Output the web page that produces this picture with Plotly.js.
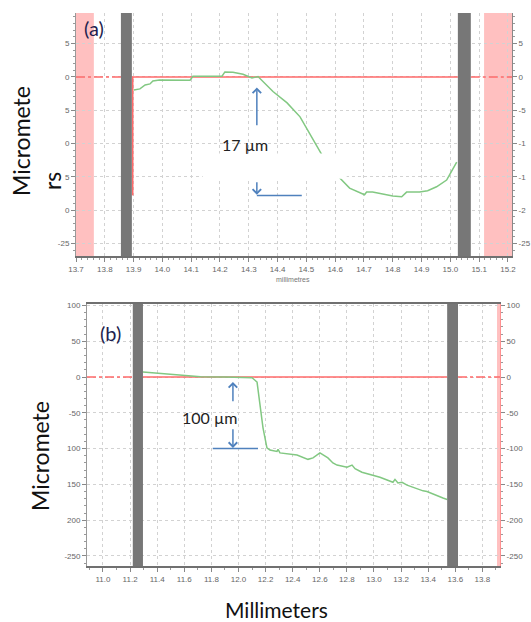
<!DOCTYPE html>
<html><head><meta charset="utf-8">
<script src="https://cdn.plot.ly/plotly-3.0.1.min.js"></script>
<style>html,body{margin:0;padding:0;background:#fff}#chart{width:531px;height:622px}</style>
</head><body><div id="chart"></div>
<script>
// ---------- Panel (a) data ----------
const profileAx = [13.901,13.922,13.94,13.957,13.967,13.99,14.096,14.106,14.207,14.217,14.245,14.28,14.311,14.332,14.384,14.433,14.478,14.523,14.554,14.585,14.617,14.650,14.702,14.709,14.730,14.800,14.831,14.848,14.893,14.921,14.952,14.987,15.001,15.022];
const profileAy = [-1.95,-1.8,-1.2,-1.05,-0.6,-0.45,-0.5,0.1,0.1,0.75,0.7,0.4,-0.15,0.05,-2.2,-3.9,-6.0,-9.5,-11.7,-13.8,-15.3,-16.7,-17.7,-17.3,-17.3,-17.9,-18.0,-17.3,-17.3,-17.1,-16.5,-15.5,-14.4,-12.8];
const xTickValsA = [13.7,13.8,13.9,14.0,14.1,14.2,14.3,14.4,14.5,14.6,14.7,14.8,14.9,15.0,15.1,15.2];
const xTickTextA = ["13.7","13.8","13.9","14.0","14.1","14.2","14.3","14.4","14.5","14.6","14.7","14.8","14.9","15.0","15.1","15.2"];
const yTickValsA = [5,0,-5,-10,-15,-20,-25];
const yTickTextLeftA = ["5","0","5","0","5","0","-25"];
const yTickTextRightA = ["5","0","-5","-1","-1","-2","-25"];
const clampBarsA = [[13.856,13.894],[15.026,15.071]];
const excludedA = [[13.70,13.762],[15.117,15.214]];
const refSolidAx = [13.894,15.026];
const refDashLeftAx = [13.70,13.856];
const refDashRightAx = [15.071,15.214];
const edgeAx = [13.897,13.897];
const edgeAy = [0,-17.8];
const stepA = {x:14.328, top:-1.6, upTail:-7.5, downTail:-15.6, bottom:-17.8, lineEnd:14.484, label:"17 µm"};
const maskA = {x0:14.14, x1:14.64, y0:-15.3, y1:-11.5};

// ---------- Panel (b) data ----------
const profileBx = [11.295,11.5,11.72,11.9,12.1,12.137,12.181,12.21,12.232,12.284,12.292,12.306,12.402,12.432,12.513,12.55,12.601,12.66,12.697,12.727,12.801,12.838,12.86,12.911,13.044,13.14,13.155,13.177,13.207,13.244,13.362,13.391,13.509,13.54];
const profileBy = [7,4,0.5,0,-1,-7,-71,-99,-102,-104,-101,-106,-109,-109,-115,-113,-106,-113,-120,-123,-126,-123,-128,-133,-140,-147,-143,-148,-147,-151,-159,-160,-169,-171];
const xTickValsB = [11.0,11.2,11.4,11.6,11.8,12.0,12.2,12.4,12.6,12.8,13.0,13.2,13.4,13.6,13.8];
const xTickTextB = ["11.0","11.2","11.4","11.6","11.8","12.0","12.2","12.4","12.6","12.8","13.0","13.2","13.4","13.6","13.8"];
const yTickValsB = [100,50,0,-50,-100,-150,-200,-250];
const yTickTextLeftB = ["100","50","0","-50","100","150","200","-250"];
const yTickTextRightB = ["100","50","0","-50","-100","-150","-200","-250"];
const clampBarsB = [[11.22,11.295],[13.54,13.62]];
const excludedB = [[13.908,13.93]];
const refSolidBx = [11.295,13.54];
const refDashLeftBx = [10.882,11.22];
const refDashRightBx = [13.62,13.93];
const stepB = {x:11.959, top:-7, upTail:-36, downTail:-71, bottom:-100, lineStart:11.81, lineEnd:12.144, label:"100 µm"};

// ---------- styles ----------
const GREEN = '#82c882', RED = '#ff6a6a', PINK = '#ffc0c0', BAR = '#777777', BLUE = '#4f81bd';
const tickFont = {family:'Liberation Sans, Arial, sans-serif', size:8, color:'#666'};
const gridStyle = {showgrid:true, gridcolor:'#d2d2d2', griddash:'dot', gridwidth:1, zeroline:false};
const titleFamily = 'Lato, "Open Sans", sans-serif';

function line(x, y, color, dash, width, xa, ya){
  return {x:x, y:y, type:'scatter', mode:'lines', xaxis:xa, yaxis:ya, hoverinfo:'skip',
          line:{color:color, width:width, dash:dash}, showlegend:false};
}

const traces = [
  line(refDashLeftAx, [0,0], RED, 'dashdot', 1.5, 'x', 'y'),
  line(refDashRightAx, [0,0], RED, 'dashdot', 1.5, 'x', 'y'),
  line(refSolidAx, [0,0], RED, 'solid', 1.5, 'x', 'y'),
  line(edgeAx, edgeAy, RED, 'solid', 1.5, 'x', 'y'),
  line(profileAx, profileAy, GREEN, 'solid', 1.5, 'x', 'y'),
  line([stepA.x, stepA.lineEnd], [stepA.bottom, stepA.bottom], BLUE, 'solid', 1.5, 'x', 'y'),
  line(refDashLeftBx, [0,0], RED, 'dashdot', 1.5, 'x3', 'y3'),
  line(refDashRightBx, [0,0], RED, 'dashdot', 1.5, 'x3', 'y3'),
  line(refSolidBx, [0,0], RED, 'solid', 1.5, 'x3', 'y3'),
  line(profileBx, profileBy, GREEN, 'solid', 1.5, 'x3', 'y3'),
  line([stepB.lineStart, stepB.lineEnd], [stepB.bottom, stepB.bottom], BLUE, 'solid', 1.5, 'x3', 'y3'),
  {x:[13.8], y:[0], xaxis:'x', yaxis:'y2', type:'scatter', mode:'markers', marker:{opacity:0}, hoverinfo:'skip', showlegend:false},
  {x:[11.5], y:[0], xaxis:'x3', yaxis:'y4', type:'scatter', mode:'markers', marker:{opacity:0}, hoverinfo:'skip', showlegend:false}
];

const shapes = [];
excludedA.forEach(r => shapes.push({type:'rect', xref:'x', yref:'y domain', x0:r[0], x1:r[1], y0:0, y1:1, fillcolor:PINK, line:{width:0}, layer:'below'}));
clampBarsA.forEach(r => shapes.push({type:'rect', xref:'x', yref:'y domain', x0:r[0], x1:r[1], y0:0, y1:1, fillcolor:BAR, line:{width:0}, layer:'above'}));
shapes.push({type:'rect', xref:'x', yref:'y', x0:maskA.x0, x1:maskA.x1, y0:maskA.y0, y1:maskA.y1, fillcolor:'#ffffff', line:{width:0}, layer:'above'});
excludedB.forEach(r => shapes.push({type:'rect', xref:'x3', yref:'y3 domain', x0:r[0], x1:r[1], y0:0, y1:1, fillcolor:PINK, line:{width:0}, layer:'below'}));
clampBarsB.forEach(r => shapes.push({type:'rect', xref:'x3', yref:'y3 domain', x0:r[0], x1:r[1], y0:0, y1:1, fillcolor:BAR, line:{width:0}, layer:'above'}));

const labelFont = {family:titleFamily, size:16, color:'#222'};
const arrowCommon = {showarrow:true, text:'', arrowhead:4, arrowsize:1.1, arrowwidth:1.5, arrowcolor:BLUE};
function paperText(px, py, text, font, angle){
  return {xref:'paper', yref:'paper', x:px/531, y:1-py/622, xanchor:'center', yanchor:'middle',
          text:text, showarrow:false, font:font, textangle:angle||0};
}
const bigFont = {family:titleFamily, size:23, color:'#111'};

const annotations = [
  paperText(94, 28, '(a)', {family:titleFamily, size:20, color:'#1f1f4f'}),
  paperText(110, 333, '(b)', {family:titleFamily, size:20, color:'#1f1f4f'}),
  Object.assign({xref:'x', yref:'y', axref:'x', ayref:'y', x:stepA.x, y:stepA.top, ax:stepA.x, ay:stepA.upTail}, arrowCommon),
  Object.assign({xref:'x', yref:'y', axref:'x', ayref:'y', x:stepA.x, y:stepA.bottom+0.1, ax:stepA.x, ay:stepA.downTail}, arrowCommon),
  {xref:'x', yref:'y', x:14.287, y:-10.2, text:stepA.label, showarrow:false, font:labelFont},
  Object.assign({xref:'x3', yref:'y3', axref:'x3', ayref:'y3', x:stepB.x, y:stepB.top, ax:stepB.x, ay:stepB.upTail}, arrowCommon),
  Object.assign({xref:'x3', yref:'y3', axref:'x3', ayref:'y3', x:stepB.x, y:stepB.bottom+1, ax:stepB.x, ay:stepB.downTail}, arrowCommon),
  {xref:'x3', yref:'y3', x:11.79, y:-56, text:stepB.label, showarrow:false, font:labelFont},
  paperText(293, 279, 'millimetres', {family:'Liberation Sans, Arial, sans-serif', size:7, color:'#777'}),
  paperText(21, 141, 'Micromete', bigFont, -90),
  paperText(52, 181, 'rs', bigFont, -90),
  paperText(40, 456, 'Micromete', bigFont, -90),
  paperText(276, 609, 'Millimeters', {family:titleFamily, size:21, color:'#111'})
];

const domAx = [76/531, 512/531], domAy = [1-256/622, 1-13/622];
const domBx = [87/531, 500/531], domBy = [1-566/622, 1-304/622];

const layout = {
  width:531, height:622, margin:{l:0,r:0,t:0,b:0}, paper_bgcolor:'#fff', plot_bgcolor:'#fff', showlegend:false,
  xaxis: Object.assign({domain:domAx, anchor:'y', range:[13.70,15.214], tickmode:'array', tickvals:xTickValsA, ticktext:xTickTextA,
    ticks:'outside', ticklen:4, tickcolor:'#888', tickfont:tickFont, showline:true, linecolor:'#707070', linewidth:2,
    minor:{tickmode:'linear', tick0:13.7, dtick:0.02, ticklen:2, tickcolor:'#999', showgrid:false}}, gridStyle),
  yaxis: Object.assign({domain:domAy, anchor:'x', range:[-26.9,9.6], tickmode:'array', tickvals:yTickValsA, ticktext:yTickTextLeftA,
    ticks:'outside', ticklen:4, tickcolor:'#888', tickfont:tickFont, showline:true, linecolor:'#999', linewidth:1,
    minor:{tickmode:'linear', tick0:0, dtick:1, ticklen:2, tickcolor:'#999', showgrid:false}}, gridStyle),
  yaxis2: {overlaying:'y', anchor:'x', side:'right', range:[-26.9,9.6], tickmode:'array', tickvals:yTickValsA, ticktext:yTickTextRightA,
    ticks:'outside', ticklen:4, tickcolor:'#888', tickfont:tickFont, showline:true, linecolor:'#888', linewidth:1, showgrid:false, zeroline:false,
    minor:{tickmode:'linear', tick0:0, dtick:1, ticklen:2, tickcolor:'#999', showgrid:false}},
  xaxis3: Object.assign({domain:domBx, anchor:'y3', range:[10.882,13.93], tickmode:'array', tickvals:xTickValsB, ticktext:xTickTextB,
    ticks:'outside', ticklen:4, tickcolor:'#888', tickfont:tickFont, showline:true, mirror:true, linecolor:'#707070', linewidth:2,
    minor:{tickmode:'linear', tick0:11.0, dtick:0.1, ticklen:2, tickcolor:'#999', showgrid:false}}, gridStyle),
  yaxis3: Object.assign({domain:domBy, anchor:'x3', range:[-264,102], tickmode:'array', tickvals:yTickValsB, ticktext:yTickTextLeftB,
    ticks:'outside', ticklen:4, tickcolor:'#888', tickfont:tickFont, showline:true, linecolor:'#999', linewidth:1,
    minor:{tickmode:'linear', tick0:0, dtick:10, ticklen:2, tickcolor:'#999', showgrid:false}}, gridStyle),
  yaxis4: {overlaying:'y3', anchor:'x3', side:'right', range:[-264,102], tickmode:'array', tickvals:yTickValsB, ticktext:yTickTextRightB,
    ticks:'outside', ticklen:4, tickcolor:'#888', tickfont:tickFont, showline:true, linecolor:'#ff9090', linewidth:1, showgrid:false, zeroline:false,
    minor:{tickmode:'linear', tick0:0, dtick:10, ticklen:2, tickcolor:'#999', showgrid:false}},
  shapes: shapes,
  annotations: annotations
};

Plotly.newPlot('chart', traces, layout, {staticPlot:true, displayModeBar:false});
</script>
</body></html>
